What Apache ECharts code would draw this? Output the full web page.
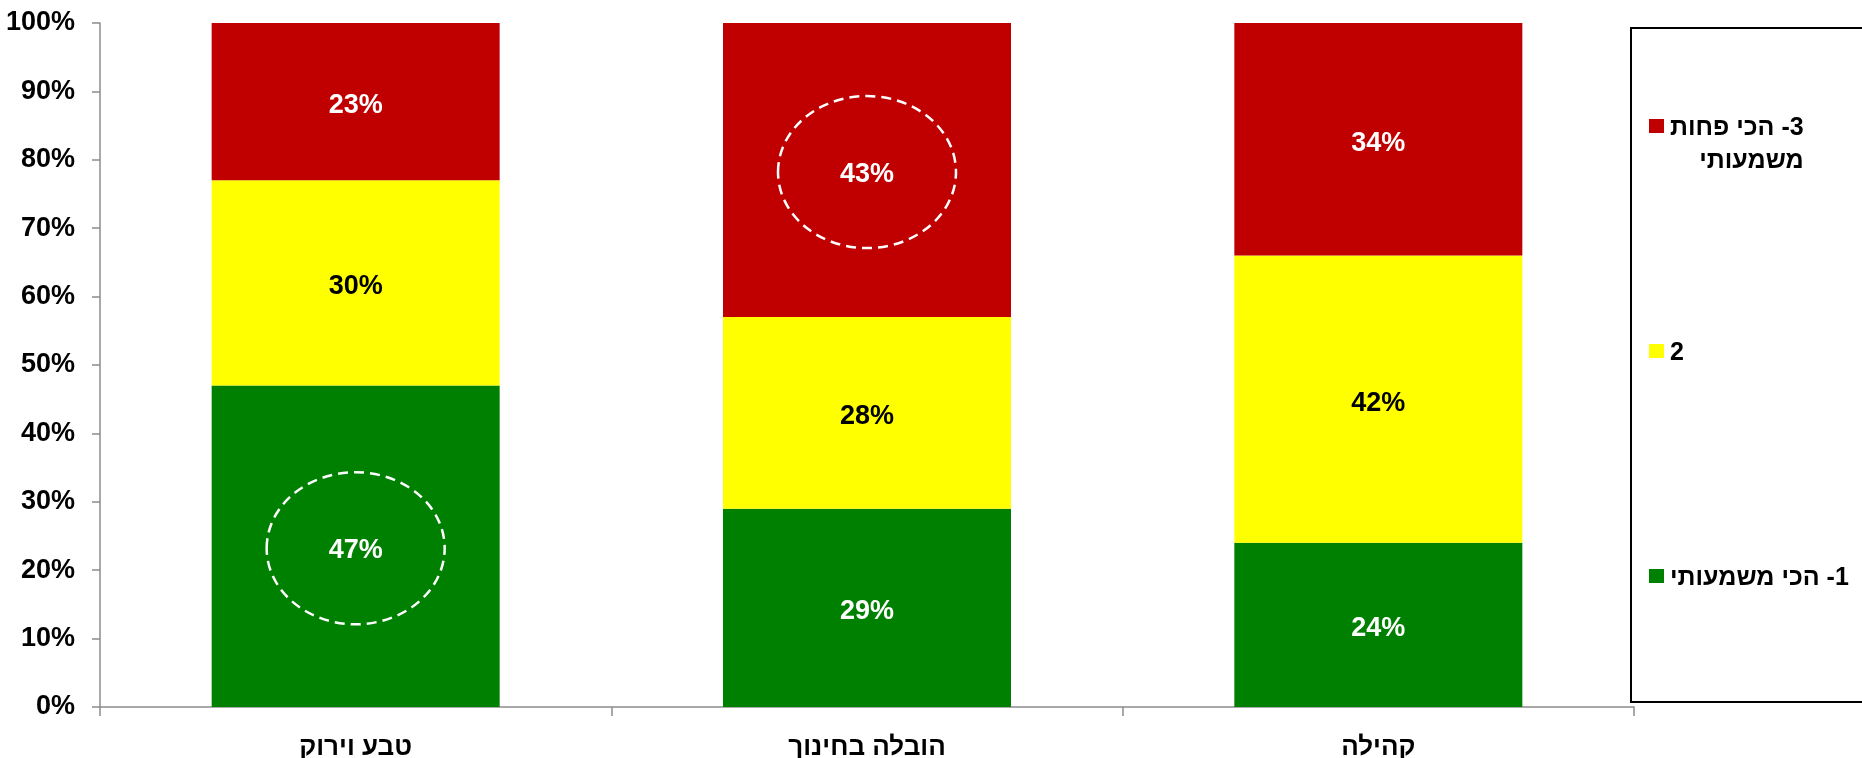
<!DOCTYPE html>
<html dir="rtl">
<head>
<meta charset="utf-8">
<script src="https://cdn.jsdelivr.net/npm/echarts@6/dist/echarts.min.js"></script>
<style>
  html, body { margin: 0; padding: 0; background: #fff; }
  #chart { width: 1862px; height: 758px; }
</style>
</head>
<body>
<div id="chart"></div>
<script>
// Survey: how meaningful each area is, share of answers per rank (percent)
const categories = ['טבע וירוק', 'הובלה בחינוך', 'קהילה'];
const seriesNames = ['1- הכי משמעותי', '2', '3- הכי פחות משמעותי'];
const mostMeaningful = [47, 29, 24];
const rankTwo = [30, 28, 42];
const leastMeaningful = [23, 43, 34];

// Value axis ticks
const yMin = 0;
const yMax = 100;
const yStep = 10;

// Legend labels split into display lines
const legendLines = {
  '1- הכי משמעותי': ['1- הכי משמעותי'],
  '2': ['2'],
  '3- הכי פחות משמעותי': ['3- הכי פחות', 'משמעותי']
};

// Segments ringed with a dashed outline: [category index, rank index]
const ringed = [[0, 0], [1, 2]];

const FONT = '"Liberation Sans", Arial, Helvetica, sans-serif';
const levels = [mostMeaningful, rankTwo, leastMeaningful];
const colors = ['#008000', '#FFFF00', '#C00000'];
const labelColors = ['#FFFFFF', '#000000', '#FFFFFF'];
const axisGray = '#8C8C8C';

const series = levels.map((vals, i) => ({
  name: seriesNames[i],
  type: 'bar',
  stack: 'total',
  data: vals,
  barWidth: 288,
  itemStyle: { color: colors[i] },
  label: {
    show: true,
    position: 'inside',
    offset: [0, 4],
    formatter: p => p.value + '%',
    color: labelColors[i],
    fontSize: 27,
    fontWeight: 'bold',
    fontFamily: FONT
  },
  emphasis: { disabled: true }
}));

// Dashed ellipse centred on each ringed segment
const ringData = ringed.map(([cat, lvl]) => {
  let base = 0;
  for (let k = 0; k < lvl; k++) base += levels[k][cat];
  return [cat, base + levels[lvl][cat] / 2];
});
const RX = 89, RY = 76;
series.push({
  type: 'custom',
  data: ringData,
  z: 5,
  silent: true,
  renderItem(params, api) {
    const p = api.coord([api.value(0), api.value(1)]);
    return {
      type: 'ellipse',
      shape: { cx: p[0], cy: p[1] + 2, rx: RX, ry: RY },
      style: {
        fill: 'none',
        stroke: '#FFFFFF',
        lineWidth: 2.5,
        lineDash: [10, 6]
      }
    };
  }
});

// Legend box on the right: highest rank at the top
const legendElements = [{
  type: 'rect',
  shape: { x: 1631, y: 28, width: 300, height: 674 },
  style: { fill: 'none', stroke: '#000000', lineWidth: 2 },
  silent: true
}];
[2, 1, 0].forEach((lvl, i) => {
  const cy = 126 + i * 225;
  const lines = legendLines[seriesNames[lvl]];
  legendElements.push({
    type: 'rect',
    shape: { x: 1649, y: cy - 7, width: 15, height: 14 },
    style: { fill: colors[lvl] },
    silent: true
  });
  legendElements.push({
    type: 'text',
    x: 1670,
    y: cy - 16.5 + 2,
    silent: true,
    style: {
      text: lines.map(l => '{r|' + l + '}').join('\n'),
      align: 'left',
      verticalAlign: 'top',
      rich: {
        r: {
          align: 'right',
          fontSize: 25,
          fontWeight: 'bold',
          fontFamily: FONT,
          lineHeight: 33,
          fill: '#000000'
        }
      }
    }
  });
});

const chart = echarts.init(document.getElementById('chart'), null, { renderer: 'canvas' });
chart.setOption({
  animation: false,
  backgroundColor: '#FFFFFF',
  grid: { left: 100, right: 228, top: 23, bottom: 51, outerBoundsMode: 'none', containLabel: false },
  xAxis: {
    type: 'category',
    data: categories,
    boundaryGap: true,
    axisLine: { show: true, lineStyle: { color: axisGray, width: 1.5 } },
    axisTick: { show: true, alignWithLabel: false, length: 9, lineStyle: { color: axisGray, width: 1.5 } },
    axisLabel: { color: '#000000', fontSize: 26, fontWeight: 'bold', fontFamily: FONT, margin: 28 },
    splitLine: { show: false }
  },
  yAxis: {
    type: 'value',
    min: yMin,
    max: yMax,
    interval: yStep,
    axisLine: { show: true, lineStyle: { color: axisGray, width: 1.5 } },
    axisTick: { show: true, length: 8, lineStyle: { color: axisGray, width: 1.5 } },
    axisLabel: { color: '#000000', fontSize: 27, fontWeight: 'bold', fontFamily: FONT, margin: 25, formatter: '{value}%' },
    splitLine: { show: false }
  },
  graphic: { elements: legendElements },
  series: series
});
</script>
</body>
</html>
